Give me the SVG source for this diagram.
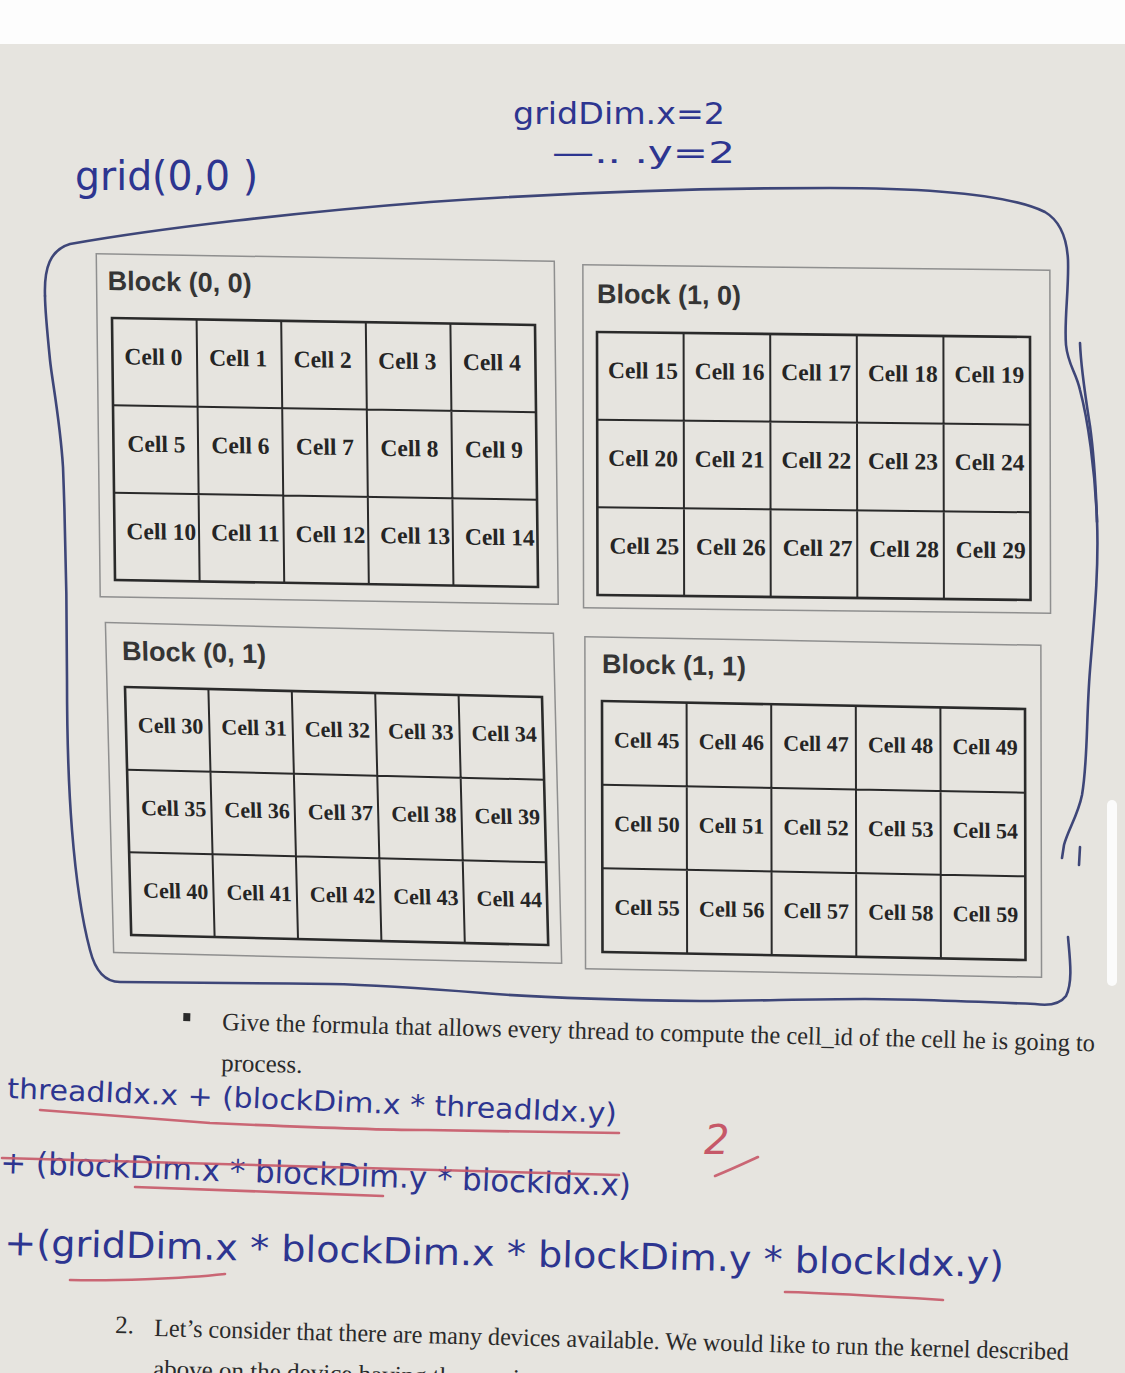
<svg xmlns="http://www.w3.org/2000/svg" width="1125" height="1373" viewBox="0 0 1125 1373">
<style>
.blk{fill:none;stroke:#8f8f8f;stroke-width:1.5}
.grid{fill:none;stroke:#2a2a2a;stroke-width:2.6}
.gl{fill:none;stroke:#2a2a2a;stroke-width:2}
.ttl{font-family:"Liberation Sans",Arial,sans-serif;font-weight:bold;font-size:27px;fill:#353535}
.c{font-family:"Liberation Serif","Times New Roman",serif;font-weight:bold;font-size:23.5px;fill:#252525}
.cs{font-family:"Liberation Serif","Times New Roman",serif;font-weight:bold;font-size:22px;fill:#252525}
.pen{fill:none;stroke:#3e4678;stroke-width:2.6;stroke-linecap:round;stroke-linejoin:round}
.hw{font-family:"DejaVu Sans","Liberation Sans",sans-serif;fill:#2d3590}
.red{fill:none;stroke:#c65868;stroke-width:2.6;stroke-linecap:round;opacity:0.9}
.doc{font-family:"Liberation Serif","Times New Roman",serif;font-size:25px;fill:#2a2a2a}
</style>
<rect x="0" y="0" width="1125" height="1373" fill="#e6e4df"/>
<rect x="0" y="0" width="1125" height="44" fill="#fdfdfd"/>
<rect x="1107" y="800" width="10" height="186" rx="5" fill="#fbfbfb"/>

<g id="block-0-0" transform="matrix(1,0.0165,0.0115,1,112,318)">
<rect class="blk" x="-15" y="-64" width="458" height="343"/>
<text class="ttl" x="-4" y="-28">Block (0, 0)</text>
<rect class="grid" x="0" y="0" width="423" height="262"/>
<path class="gl" d="M84.6,0V262M169.2,0V262M253.8,0V262M338.4,0V262M0,87.3H423M0,174.7H423"/>
<text class="c" x="12" y="46">Cell 0</text><text class="c" x="96.6" y="46">Cell 1</text><text class="c" x="181.2" y="46">Cell 2</text><text class="c" x="265.8" y="46">Cell 3</text><text class="c" x="350.4" y="46">Cell 4</text>
<text class="c" x="14" y="133.3">Cell 5</text><text class="c" x="98" y="133.3">Cell 6</text><text class="c" x="182.5" y="133.3">Cell 7</text><text class="c" x="267" y="133.3">Cell 8</text><text class="c" x="351.5" y="133.3">Cell 9</text>
<text class="c" x="12" y="220.7">Cell 10</text><text class="c" x="96.6" y="220.7">Cell 11</text><text class="c" x="181.2" y="220.7">Cell 12</text><text class="c" x="265.8" y="220.7">Cell 13</text><text class="c" x="350.4" y="220.7">Cell 14</text>
</g>

<g id="block-1-0" transform="matrix(1,0.0115,0.002,1,597,332)">
<rect class="blk" x="-14" y="-67" width="467" height="343"/>
<text class="ttl" x="0" y="-29">Block (1, 0)</text>
<rect class="grid" x="0" y="0" width="433" height="263"/>
<path class="gl" d="M86.6,0V263M173.2,0V263M259.8,0V263M346.4,0V263M0,87.7H433M0,175.3H433"/>
<text class="c" x="11" y="46">Cell 15</text><text class="c" x="97.6" y="46">Cell 16</text><text class="c" x="184.2" y="46">Cell 17</text><text class="c" x="270.8" y="46">Cell 18</text><text class="c" x="357.4" y="46">Cell 19</text>
<text class="c" x="11" y="133.7">Cell 20</text><text class="c" x="97.6" y="133.7">Cell 21</text><text class="c" x="184.2" y="133.7">Cell 22</text><text class="c" x="270.8" y="133.7">Cell 23</text><text class="c" x="357.4" y="133.7">Cell 24</text>
<text class="c" x="12" y="221.4">Cell 25</text><text class="c" x="98.6" y="221.4">Cell 26</text><text class="c" x="185.2" y="221.4">Cell 27</text><text class="c" x="271.8" y="221.4">Cell 28</text><text class="c" x="358.4" y="221.4">Cell 29</text>
</g>

<g id="block-0-1" transform="matrix(1,0.024,0.025,1,125,687)">
<rect class="blk" x="-18" y="-64" width="448" height="330"/>
<text class="ttl" x="-2" y="-27">Block (0, 1)</text>
<rect class="grid" x="0" y="0" width="417" height="248"/>
<path class="gl" d="M83.4,0V248M166.8,0V248M250.2,0V248M333.6,0V248M0,82.7H417M0,165.3H417"/>
<text class="cs" x="12" y="45">Cell 30</text><text class="cs" x="95.4" y="45">Cell 31</text><text class="cs" x="178.8" y="45">Cell 32</text><text class="cs" x="262.2" y="45">Cell 33</text><text class="cs" x="345.6" y="45">Cell 34</text>
<text class="cs" x="13" y="127.7">Cell 35</text><text class="cs" x="96.4" y="127.7">Cell 36</text><text class="cs" x="179.8" y="127.7">Cell 37</text><text class="cs" x="263.2" y="127.7">Cell 38</text><text class="cs" x="346.6" y="127.7">Cell 39</text>
<text class="cs" x="13" y="210.3">Cell 40</text><text class="cs" x="96.4" y="210.3">Cell 41</text><text class="cs" x="179.8" y="210.3">Cell 42</text><text class="cs" x="263.2" y="210.3">Cell 43</text><text class="cs" x="346.6" y="210.3">Cell 44</text>
</g>

<g id="block-1-1" transform="matrix(1,0.019,0.002,1,602,701)">
<rect class="blk" x="-17" y="-64" width="456" height="332"/>
<text class="ttl" x="0" y="-28">Block (1, 1)</text>
<rect class="grid" x="0" y="0" width="423" height="251"/>
<path class="gl" d="M84.6,0V251M169.2,0V251M253.8,0V251M338.4,0V251M0,83.7H423M0,167.3H423"/>
<text class="cs" x="12" y="46">Cell 45</text><text class="cs" x="96.6" y="46">Cell 46</text><text class="cs" x="181.2" y="46">Cell 47</text><text class="cs" x="265.8" y="46">Cell 48</text><text class="cs" x="350.4" y="46">Cell 49</text>
<text class="cs" x="12" y="129.7">Cell 50</text><text class="cs" x="96.6" y="129.7">Cell 51</text><text class="cs" x="181.2" y="129.7">Cell 52</text><text class="cs" x="265.8" y="129.7">Cell 53</text><text class="cs" x="350.4" y="129.7">Cell 54</text>
<text class="cs" x="12" y="213.3">Cell 55</text><text class="cs" x="96.6" y="213.3">Cell 56</text><text class="cs" x="181.2" y="213.3">Cell 57</text><text class="cs" x="265.8" y="213.3">Cell 58</text><text class="cs" x="350.4" y="213.3">Cell 59</text>
</g>

<g id="grid-outline">
<path class="pen" d="M45,296 C44,268 50,250 70,244 C160,228 300,212 430,202 C560,193 700,188 830,188 C930,188 1010,195 1045,212 C1062,222 1067,240 1068,260 C1069,290 1064,320 1066,345 C1068,365 1076,372 1080,390 C1088,420 1095,470 1097,520 C1099,570 1094,620 1090,670 C1086,720 1088,760 1082,795 C1078,815 1068,830 1064,845 L1062,858"/>
<path class="pen" d="M1080,343 C1081,370 1086,400 1090,426 C1094,455 1096,490 1097,522"/>
<path class="pen" d="M1080,847 L1079,865" stroke-width="1.8"/>
<path class="pen" d="M1068,937 C1070,960 1073,982 1066,996 C1060,1004 1048,1006 1035,1004 C960,1001 900,999 865,999 C800,999 760,1001 700,1001 C620,1000 540,998 483,993 C420,988 380,985 330,984 C250,983 160,982 120,982 C105,982 95,970 90,950 C82,920 76,880 72,830 C68,780 67,720 67,680 C67,620 65,520 63,467 C60,420 52,380 50,360 C47,330 45,310 45,296"/>
</g>

<g id="labels">
<text class="hw" x="513" y="124" font-size="30" textLength="212" lengthAdjust="spacingAndGlyphs">gridDim.x=2</text>
<text class="hw" x="552" y="163" font-size="30" textLength="183" lengthAdjust="spacingAndGlyphs">—.. .y=2</text>
<text class="hw" x="75" y="190" font-size="40" textLength="183" lengthAdjust="spacingAndGlyphs">grid(0,0 )</text>
</g>

<g id="question">
<rect x="183" y="1014" width="7" height="8" fill="#2a2a2a" transform="rotate(1.4 222 1030)"/>
<text class="doc" x="222" y="1030" textLength="873" lengthAdjust="spacingAndGlyphs" transform="rotate(1.4 222 1030)">Give the formula that allows every thread to compute the cell_id of the cell he is going to</text>
<text class="doc" x="222" y="1071" transform="rotate(1.4 222 1030)">process.</text>
<text class="doc" x="115" y="1334" transform="rotate(1.5 154 1336)">2.</text>
<text class="doc" x="154" y="1336" textLength="915" lengthAdjust="spacingAndGlyphs" transform="rotate(1.5 154 1336)">Let’s consider that there are many devices available. We would like to run the kernel described</text>
<text class="doc" x="154" y="1377" transform="rotate(1.5 154 1336)">above on the device having the maximum</text>
</g>

<g id="answer">
<text class="hw" x="7" y="1098" font-size="28" textLength="610" lengthAdjust="spacingAndGlyphs" transform="rotate(2.35 7 1098)">threadIdx.x + (blockDim.x * threadIdx.y)</text>
<text class="hw" x="0" y="1173" font-size="31" textLength="631" lengthAdjust="spacingAndGlyphs" transform="rotate(2.1 0 1173)">+ (blockDim.x * blockDim.y * blockIdx.x)</text>
<text class="hw" x="4" y="1255" font-size="36" textLength="1000" lengthAdjust="spacingAndGlyphs" transform="rotate(1.26 4 1255)">+(gridDim.x * blockDim.x * blockDim.y * blockIdx.y)</text>
<path class="red" d="M40,1110 C120,1116 180,1121 210,1123 C300,1127 380,1130 421,1130 C500,1131 580,1132 619,1133"/>
<path class="red" d="M2,1158 C200,1163 400,1169 619,1175"/>
<path class="red" d="M135,1187 C220,1190 300,1193 383,1196"/>
<path class="red" d="M70,1280 C110,1281 180,1279 225,1274"/>
<path class="red" d="M785,1292 C830,1293 880,1296 943,1300"/>
<text x="704" y="1154" font-family="DejaVu Sans, sans-serif" font-style="italic" font-size="40" fill="#c65868">2</text>
<path class="red" d="M715,1176 C730,1170 745,1163 758,1157"/>
</g>
</svg>
